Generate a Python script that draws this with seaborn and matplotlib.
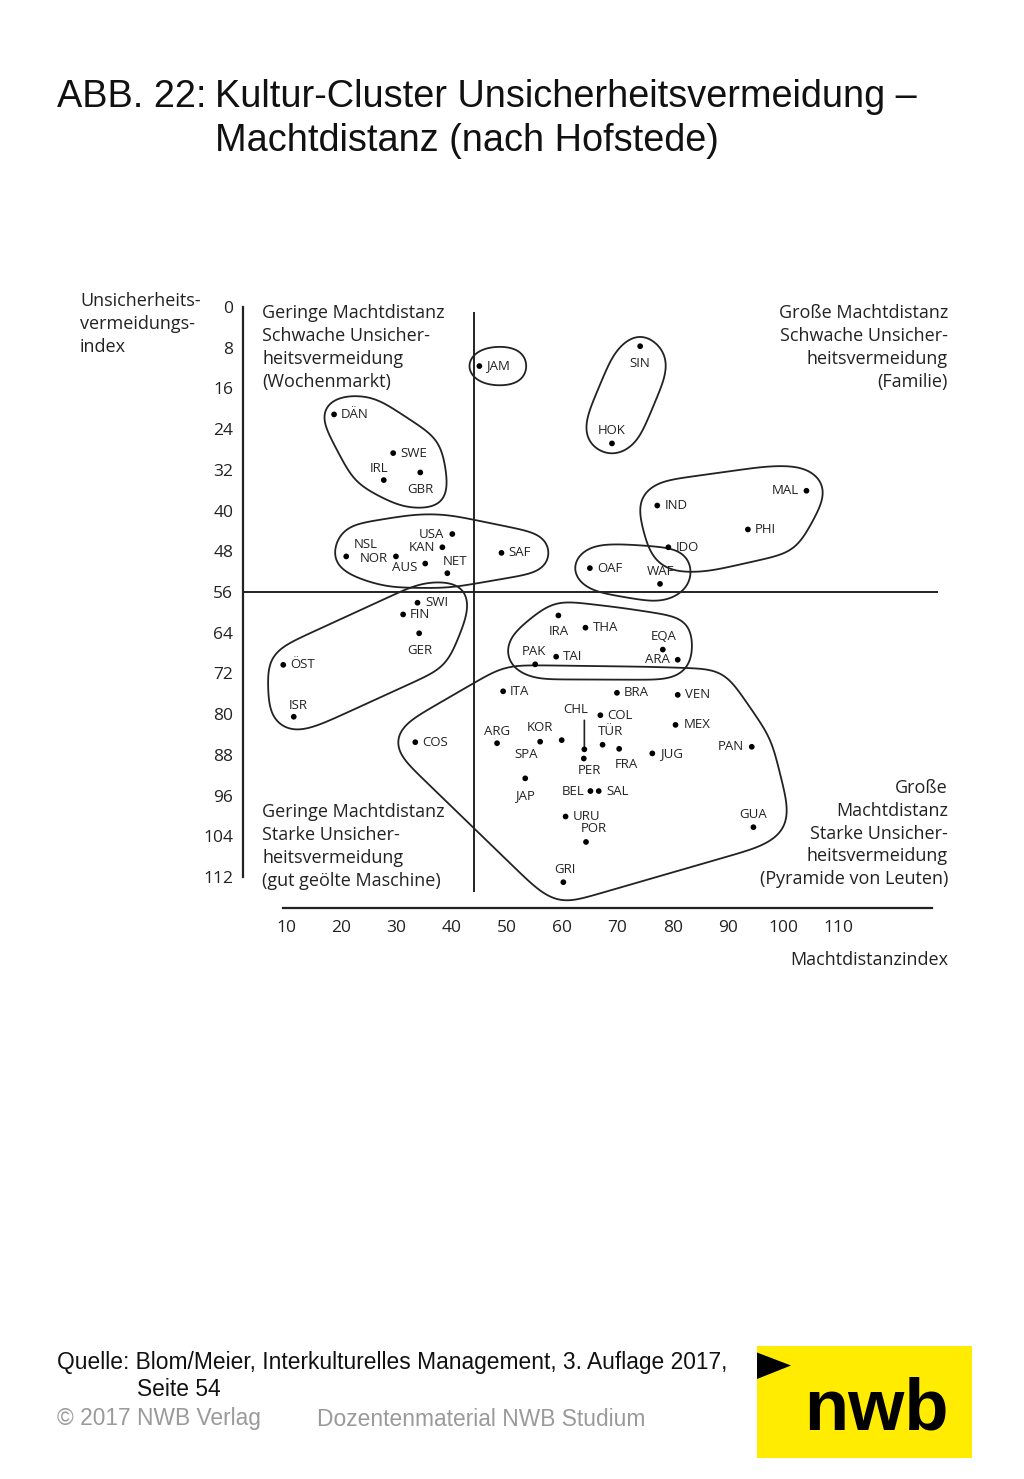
import numpy as np
import pandas as pd
import matplotlib
matplotlib.use("Agg")
import matplotlib.pyplot as plt
from matplotlib.patches import Rectangle, Polygon
import seaborn as sns

# ---------------- data ----------------
countries = ["JAM", "DÄN", "SWE", "IRL", "GBR",
             "USA", "KAN", "NSL", "NOR", "AUS", "NET", "SAF",
             "SIN", "HOK",
             "MAL", "IND", "PHI", "IDO",
             "OAF", "WAF",
             "SWI", "FIN", "GER", "ÖST", "ISR",
             "IRA", "THA", "EQA", "ARA", "PAK", "TAI",
             "COS", "ITA", "ARG", "SPA", "KOR", "JAP", "BRA", "VEN", "COL",
             "MEX", "TÜR", "CHL", "PER", "FRA", "JUG", "PAN", "BEL", "SAL",
             "URU", "POR", "GUA", "GRI"]
# Machtdistanzindex
pdi = [45.0, 18.7, 29.4, 27.7, 34.3,
       40.1, 38.3, 20.9, 29.9, 35.2, 39.2, 49.0,
       74.1, 69.0,
       104.2, 77.2, 93.6, 79.2,
       65.0, 77.7,
       33.8, 31.2, 34.1, 9.5, 11.4,
       59.3, 64.2, 78.2, 80.9, 55.1, 58.9,
       33.4, 49.3, 48.2, 56.0, 59.9, 53.3, 69.9, 80.9, 66.9,
       80.5, 67.3, 64.0, 63.9, 70.3, 76.3, 94.3, 65.1, 66.6,
       60.6, 64.3, 94.6, 60.2]
# Unsicherheitsvermeidungsindex
uai = [11.6, 21.1, 28.7, 34.0, 32.5,
       44.6, 47.2, 49.0, 49.0, 50.4, 52.3, 48.3,
       7.7, 26.8,
       36.1, 39.0, 43.7, 47.2,
       51.3, 54.4,
       58.1, 60.4, 64.1, 70.3, 80.5,
       60.6, 63.0, 67.3, 69.3, 70.2, 68.7,
       85.5, 75.5, 85.7, 85.4, 85.1, 92.6, 75.8, 76.2, 80.2,
       82.1, 86.0, 86.9, 88.7, 86.8, 87.7, 86.4, 95.1, 95.1,
       100.1, 105.1, 102.2, 113.0]

clusters = [
    ["JAM"],
    ["DÄN", "SWE", "IRL", "GBR"],
    ["SIN", "HOK"],
    ["NSL", "NOR", "AUS", "KAN", "USA", "NET", "SAF"],
    ["IND", "IDO", "PHI", "MAL"],
    ["OAF", "WAF"],
    ["SWI", "FIN", "GER", "ÖST", "ISR"],
    ["IRA", "THA", "PAK", "TAI", "EQA", "ARA"],
    ["COS", "ITA", "ARG", "SPA", "KOR", "JAP", "BRA", "VEN", "COL", "MEX",
     "TÜR", "CHL", "PER", "FRA", "JUG", "PAN", "BEL", "SAL", "URU", "POR",
     "GUA", "GRI"],
]
cluster_pad = [15, 14, 14, 15, 20, 19, 16, 15, 21]

x_ticks = list(range(10, 111, 5))
y_ticks = list(range(0, 113, 4))
PDI_SPLIT = 44
UAI_SPLIT = 56

# label placement (pixels right / down from the dot, alignment)
label_pos = {
    "JAM": (7, 0, "left"), "DÄN": (7, 0, "left"), "SWE": (7, 0, "left"),
    "IRL": (-5, -12, "center"), "GBR": (0, 17, "center"),
    "USA": (-8, 0, "right"), "KAN": (-7, 0, "right"), "NSL": (20, -12, "center"),
    "NOR": (-8, 2, "right"), "AUS": (-8, 4, "right"), "NET": (8, -12, "center"),
    "SAF": (7, 0, "left"), "SIN": (0, 17, "center"), "HOK": (0, -13, "center"),
    "MAL": (-8, 0, "right"), "IND": (7, 0, "left"), "PHI": (7, 0, "left"),
    "IDO": (7, 0, "left"), "OAF": (7, 0, "left"), "WAF": (0, -12, "center"),
    "SWI": (8, 0, "left"), "FIN": (7, 0, "left"), "GER": (1, 17, "center"),
    "ÖST": (7, 0, "left"), "ISR": (5, -11, "center"), "COS": (7, 0, "left"),
    "ITA": (7, 0, "left"), "ARG": (0, -12, "center"), "SPA": (-14, 13, "center"),
    "KOR": (-22, -13, "center"), "JAP": (0, 17, "center"), "IRA": (0, 16, "center"),
    "THA": (7, 0, "left"), "EQA": (1, -13, "center"), "ARA": (-8, 0, "right"),
    "PAK": (-1, -13, "center"), "TAI": (7, 0, "left"), "BRA": (7, 0, "left"),
    "VEN": (7, 0, "left"), "COL": (7, 0, "left"), "MEX": (8, 0, "left"),
    "TÜR": (8, -13, "center"), "CHL": (-9, -40, "center"), "PER": (6, 12, "center"),
    "FRA": (7, 16, "center"), "JUG": (8, 0, "left"), "PAN": (-8, 0, "right"),
    "BEL": (-6, 0, "right"), "SAL": (8, 0, "left"), "URU": (7, 0, "left"),
    "POR": (8, -13, "center"), "GUA": (0, -13, "center"), "GRI": (2, -13, "center"),
}

# ---------------- figure ----------------
sns.set_style("white")
plt.rcParams["font.family"] = ["Open Sans", "DejaVu Sans"]
ink = "#222222"

W, H = 1024, 1479
fig = plt.figure(figsize=(W / 100, H / 100), dpi=100)


def fx(px):
    return px / W


def fy(py):
    return 1 - py / H


ax = fig.add_axes([fx(175.5), fy(968.7), (949 - 175.5) / W, (968.7 - 266.3) / H])
ax.set_facecolor("none")
ax.set_xlim(-10, 130)
ax.set_ylim(130, -8)
SX = 773.5 / 140   # px per unit
SY = 702.4 / 138

df = pd.DataFrame({"land": countries, "pdi": pdi, "uai": uai})
idx = {c: i for i, c in enumerate(countries)}

# quadrant dividers
ax.vlines(PDI_SPLIT, 1.0, 114.9, color=ink, lw=1.4)
ax.hlines(UAI_SPLIT, 2.0, 128.0, color=ink, lw=1.4)

sns.scatterplot(data=df, x="pdi", y="uai", color="black", s=17,
                edgecolor="none", legend=False, ax=ax, zorder=5)

for c in countries:
    dx, dy, ha = label_pos[c]
    ax.annotate(c, (df.pdi[idx[c]], df.uai[idx[c]]), xytext=(dx * 0.72, -dy * 0.72),
                textcoords="offset points", ha=ha, va="center",
                fontsize=9.5, color=ink)

# CHL leader line
i = idx["CHL"]
ax.annotate("", (pdi[i], uai[i]), xytext=(0, 29 * 0.72), textcoords="offset points",
            arrowprops=dict(arrowstyle="-", color=ink, lw=1.2, shrinkA=0, shrinkB=2))


# ---------------- cluster outlines ----------------
def convex_hull(points):
    pts = sorted(set(points))

    def cross(o, a, b):
        return (a[0] - o[0]) * (b[1] - o[1]) - (a[1] - o[1]) * (b[0] - o[0])
    lower, upper = [], []
    for p in pts:
        while len(lower) >= 2 and cross(lower[-2], lower[-1], p) <= 0:
            lower.pop()
        lower.append(p)
    for p in reversed(pts):
        while len(upper) >= 2 and cross(upper[-2], upper[-1], p) <= 0:
            upper.pop()
        upper.append(p)
    return lower[:-1] + upper[:-1]


def smooth_closed(poly, sigma=14.0):
    # resample at ~1 px and blur along the curve -> rounded hand-drawn look
    p = np.vstack([poly, poly[:1]])
    seg = np.hypot(*np.diff(p, axis=0).T)
    s = np.concatenate([[0], np.cumsum(seg)])
    n = int(s[-1])
    t = np.linspace(0, s[-1], n, endpoint=False)
    q = np.column_stack([np.interp(t, s, p[:, 0]), np.interp(t, s, p[:, 1])])
    k = np.arange(-int(3 * sigma), int(3 * sigma) + 1)
    w = np.exp(-0.5 * (k / sigma) ** 2)
    w /= w.sum()
    out = np.zeros_like(q)
    for kk, ww in zip(k, w):
        out += ww * np.roll(q, kk, axis=0)
    return out


def blob(codes, pad):
    pts = []
    for c in codes:
        x0, y0 = pdi[idx[c]] * SX, uai[idx[c]] * SY
        pts.append((x0, y0))
        dx, dy, ha = label_pos[c]
        w, h = 8.6 * len(c) + 2, 10
        if ha == "left":
            xl = x0 + dx
        elif ha == "right":
            xl = x0 + dx - w
        else:
            xl = x0 + dx - w / 2
        yc = y0 + dy
        pts += [(xl, yc - h / 2), (xl + w, yc - h / 2), (xl, yc + h / 2), (xl + w, yc + h / 2)]
    ang = np.linspace(0, 2 * np.pi, 36, endpoint=False)
    ring = [(round(px + pad * np.cos(a), 3), round(py + pad * np.sin(a), 3))
            for px, py in pts for a in ang]
    poly = smooth_closed(np.array(convex_hull(ring)))
    return np.column_stack([poly[:, 0] / SX, poly[:, 1] / SY])


for members, pad in zip(clusters, cluster_pad):
    ax.add_patch(Polygon(blob(members, pad), closed=True, fill=False,
                         edgecolor=ink, lw=1.3, joinstyle="round"))

# ---------------- axes ----------------
for s in ["top", "right"]:
    ax.spines[s].set_visible(False)
ax.spines["left"].set_position(("data", 2.2))
ax.spines["left"].set_bounds(0, 112)
ax.spines["bottom"].set_position(("data", 118.1))
ax.spines["bottom"].set_bounds(9.5, 127)
for s in ["left", "bottom"]:
    ax.spines[s].set_color(ink)
    ax.spines[s].set_linewidth(1.6)

ax.set_xticks(x_ticks)
ax.set_xticklabels([str(v) if v % 10 == 0 else "" for v in x_ticks])
ax.set_yticks(y_ticks)
ax.set_yticklabels([str(v) if v % 8 == 0 else "" for v in y_ticks])
ax.tick_params(axis="x", direction="in", length=9.4, width=1.3, pad=8.5,
               labelsize=12.5, colors=ink)
ax.tick_params(axis="y", direction="in", length=8.5, width=1.3, pad=7,
               labelsize=12.5, colors=ink)
ax.set_xlabel("")
ax.set_ylabel("")


# ---------------- texts ----------------
def lines(txt, x, y0, pitch=23, ha="left", **kw):
    for k, line in enumerate(txt):
        fig.text(fx(x), fy(y0 + k * pitch), line, ha=ha, va="center",
                 fontsize=13, color=ink, **kw)


lines(["Unsicherheits-", "vermeidungs-", "index"], 80, 301)
lines(["Geringe Machtdistanz", "Schwache Unsicher-", "heitsvermeidung", "(Wochenmarkt)"], 262, 313)
lines(["Große Machtdistanz", "Schwache Unsicher-", "heitsvermeidung", "(Familie)"], 948, 313, ha="right")
lines(["Geringe Machtdistanz", "Starke Unsicher-", "heitsvermeidung", "(gut geölte Maschine)"], 262, 812)
lines(["Große", "Machtdistanz", "Starke Unsicher-", "heitsvermeidung", "(Pyramide von Leuten)"],
      948, 788, pitch=22.8, ha="right")
lines(["Machtdistanzindex"], 948, 960, ha="right")

title_font = ["Liberation Sans", "DejaVu Sans"]
fig.text(fx(57), fy(97), "ABB. 22:", fontsize=27.3, family=title_font, va="center", color="#111111")
fig.text(fx(215), fy(97), "Kultur-Cluster Unsicherheitsvermeidung –", fontsize=27.3,
         family=title_font, va="center", color="#111111")
fig.text(fx(215), fy(141), "Machtdistanz (nach Hofstede)", fontsize=27.3,
         family=title_font, va="center", color="#111111")

fig.text(fx(57), fy(1363), "Quelle: Blom/Meier, Interkulturelles Management, 3. Auflage 2017,",
         fontsize=16.4, family=title_font, va="center", color="#111111")
fig.text(fx(137), fy(1390), "Seite 54", fontsize=16.4, family=title_font, va="center", color="#111111")
fig.text(fx(57), fy(1419), "© 2017 NWB Verlag", fontsize=16.4, family=title_font,
         va="center", color="#9a9a9a")
fig.text(fx(317), fy(1419), "Dozentenmaterial NWB Studium", fontsize=16.4, family=title_font,
         va="center", color="#9a9a9a")

# nwb logo
fig.patches.append(Rectangle((fx(757), fy(1458)), 215 / W, 112 / H, transform=fig.transFigure,
                             facecolor="#ffec00", edgecolor="none"))
fig.patches.append(Polygon([(fx(757), fy(1352.5)), (fx(757), fy(1379)), (fx(791), fy(1365.5))],
                           closed=True, transform=fig.transFigure, facecolor="black",
                           edgecolor="none"))
fig.text(fx(876), fy(1429), "nwb", fontsize=52, fontweight="bold",
         family=["Liberation Sans", "DejaVu Sans"], ha="center", va="baseline", color="black")

fig.savefig("out.png", dpi=100)
